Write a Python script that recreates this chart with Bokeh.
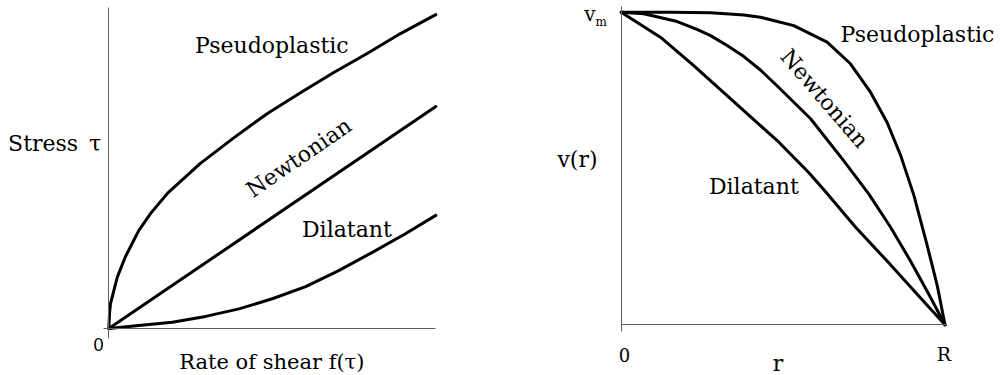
from bokeh.plotting import figure
from bokeh.models import Range1d, FixedTicker, Label
from bokeh.layouts import row
from bokeh.embed import file_html
from bokeh.resources import INLINE

# ---------------- Left panel: stress vs rate of shear ----------------
pseudo_shear = [0, 0.02, 0.05, 0.26, 0.51, 0.76, 0.92, 1.28, 1.79, 2.80, 3.82, 4.84, 5.86, 6.88, 7.90, 8.92, 10.0]
pseudo_stress = [0, 0.43, 0.75, 1.57, 2.20, 2.69, 3.00, 3.52, 4.13, 5.05, 5.83, 6.57, 7.21, 7.83, 8.41, 9.02, 9.60]

newt_shear = [0, 10.0]
newt_stress = [0, 6.79]

dil_shear = [0, 0.92, 1.94, 2.96, 3.98, 5.00, 6.02, 7.03, 8.06, 9.07, 10.0]
dil_stress = [0, 0.09, 0.19, 0.37, 0.60, 0.91, 1.28, 1.77, 2.33, 2.90, 3.46]

# ---------------- Right panel: velocity profile v(r) ----------------
pseudo_r = [0, 0.15, 0.276, 0.379, 0.430, 0.533, 0.636, 0.708, 0.770, 0.821, 0.863, 0.904, 0.945, 0.976, 1.0]
pseudo_v = [1, 1.0, 0.998, 0.991, 0.984, 0.957, 0.904, 0.835, 0.744, 0.648, 0.542, 0.414, 0.254, 0.126, 0]

newt_r = [0, 0.070, 0.173, 0.234, 0.276, 0.326, 0.379, 0.430, 0.486, 0.585, 0.687, 0.765, 0.832, 0.893, 0.950, 1.0]
newt_v = [1, 0.995, 0.970, 0.945, 0.925, 0.894, 0.858, 0.815, 0.760, 0.659, 0.525, 0.418, 0.312, 0.205, 0.098, 0]

dil_r = [0, 0.121, 0.224, 0.327, 0.430, 0.487, 0.579, 0.626, 0.724, 0.822, 0.914, 1.0]
dil_v = [1, 0.920, 0.829, 0.733, 0.637, 0.584, 0.487, 0.432, 0.312, 0.203, 0.098, 0]

SERIF = "DejaVu Serif"
AXIS_COLOR = "#606060"


def base_fig(width, x_rng, y_rng, x_bounds, y_bounds):
    p = figure(width=width, height=375, x_range=Range1d(*x_rng), y_range=Range1d(*y_rng),
               output_backend="svg", toolbar_location=None,
               min_border_left=0, min_border_right=0, min_border_top=0, min_border_bottom=0)
    p.grid.visible = False
    p.outline_line_color = None
    p.background_fill_color = "white"
    p.border_fill_color = "white"
    for ax, b in ((p.xaxis[0], x_bounds), (p.yaxis[0], y_bounds)):
        ax.fixed_location = 0
        ax.bounds = b
        ax.ticker = FixedTicker(ticks=[])
        ax.major_tick_line_color = None
        ax.minor_tick_line_color = None
        ax.axis_line_color = AXIS_COLOR
        ax.axis_line_width = 1
    return p


def add_label(p, x, y, text, size="22px", align="center", baseline="alphabetic", angle=0.0, font=SERIF):
    p.add_layout(Label(x=x, y=y, x_units="data", y_units="data", text=text, text_font=font,
                       text_font_size=size, text_align=align, text_baseline=baseline,
                       angle=angle, text_color="black"))


# Left figure
p1 = base_fig(500, (-3.312, 11.978), (-1.437, 10.031), (-0.15, 10.0), (-0.30, 9.817))
for xs, ys in ((pseudo_shear, pseudo_stress), (newt_shear, newt_stress), (dil_shear, dil_stress)):
    p1.line(xs, ys, line_color="black", line_width=3, line_join="round", line_cap="round")

add_label(p1, 4.985, 8.664, "Pseudoplastic")
add_label(p1, 5.81, 5.23, "Newtonian", baseline="middle", angle=0.602)
add_label(p1, 7.28, 3.024, "Dilatant")
add_label(p1, -3.08, 5.654, "Stress\u2002\u03c4", align="left")
add_label(p1, -0.315, -0.497, "0", size="18px", font="Liberation Sans")
add_label(p1, 4.985, -1.018, "Rate of shear f(\u03c4)", size="21px")

# Right figure
p2 = base_fig(505, (-0.3728, 1.1869), (-0.1622, 1.0374), (0, 1.006), (-0.023, 1.018))
for xs, ys in ((pseudo_r, pseudo_v), (newt_r, newt_v), (dil_r, dil_v)):
    p2.line(xs, ys, line_color="black", line_width=3, line_join="round", line_cap="round")

add_label(p2, 0.915, 0.929, "Pseudoplastic")
add_label(p2, 0.628, 0.724, "Newtonian", baseline="middle", angle=-0.86)
add_label(p2, 0.4096, 0.442, "Dilatant")
add_label(p2, -0.0794, 0.9935, "v", size="20px", align="right")
add_label(p2, -0.0794, 0.969, "m", size="12px", align="left")
add_label(p2, -0.135, 0.528, "v(r)")
add_label(p2, 0.0102, -0.0956, "0", size="18px")
add_label(p2, 0.997, -0.0945, "R", size="19px")
add_label(p2, 0.484, -0.1238, "r", size="22px")

layout = row(p1, p2)
open("out.html", "w").write(file_html(layout, INLINE))
